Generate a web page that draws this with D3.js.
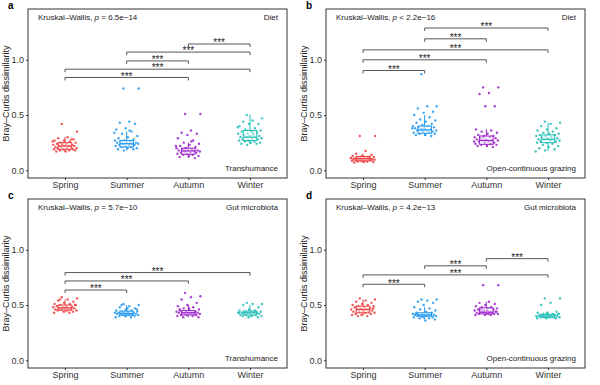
<!DOCTYPE html>
<html>
<head>
<meta charset="utf-8">
<script src="https://cdn.jsdelivr.net/npm/d3@7"></script>
<style>
  body { margin: 0; background: #fff; }
  svg { display: block; font-family: "Liberation Sans", Arial, sans-serif; }
</style>
</head>
<body>
<svg id="chart" width="600" height="385"></svg>
<script>
// Seasons and colours
const seasons = ['Spring', 'Summer', 'Autumn', 'Winter'];
const seasonColors = ['#ee3b3b', '#1e96ee', '#9a22c8', '#1dbdb5'];
const yTicks = [0.0, 0.5, 1.0];

const panelLetters = ['a', 'b', 'c', 'd'];
const panelKinds = ['Diet', 'Diet', 'Gut microbiota', 'Gut microbiota'];
const panelSystems = ['Transhumance', 'Open-continuous grazing', 'Transhumance', 'Open-continuous grazing'];
const kwSign = ['=', '<', '=', '='];
const kwValue = ['6.5e\u221214', '2.2e\u221216', '5.7e\u221210', '4.2e\u221213'];

// box stats per panel: [q1, median, q3, whiskerLow, whiskerHigh] for each season
const boxA = [[0.19, 0.22, 0.25, 0.165, 0.30], [0.21, 0.24, 0.27, 0.18, 0.35], [0.145, 0.175, 0.20, 0.11, 0.25], [0.27, 0.30, 0.36, 0.235, 0.505]];
const boxB = [[0.085, 0.105, 0.125, 0.07, 0.15], [0.335, 0.365, 0.40, 0.31, 0.50], [0.235, 0.27, 0.31, 0.21, 0.37], [0.25, 0.28, 0.32, 0.175, 0.43]];
const boxC = [[0.455, 0.475, 0.50, 0.43, 0.55], [0.41, 0.425, 0.445, 0.39, 0.50], [0.41, 0.43, 0.45, 0.39, 0.50], [0.41, 0.43, 0.445, 0.39, 0.50]];
const boxD = [[0.43, 0.46, 0.49, 0.40, 0.55], [0.40, 0.41, 0.43, 0.37, 0.48], [0.42, 0.435, 0.475, 0.41, 0.53], [0.39, 0.40, 0.415, 0.38, 0.44]];

// individual dissimilarity values
const ptsA = [
  [0.42, 0.35, 0.30, 0.29, 0.28, 0.27, 0.27, 0.26, 0.25, 0.25, 0.24, 0.24, 0.23, 0.23, 0.23, 0.22, 0.22, 0.22, 0.22, 0.21, 0.21, 0.21, 0.20, 0.20, 0.20, 0.19, 0.19, 0.19, 0.18, 0.18, 0.18, 0.17, 0.17, 0.28, 0.24, 0.26],
  [0.74, 0.74, 0.44, 0.43, 0.42, 0.38, 0.37, 0.35, 0.33, 0.31, 0.30, 0.29, 0.28, 0.27, 0.27, 0.26, 0.26, 0.25, 0.25, 0.25, 0.24, 0.24, 0.24, 0.23, 0.23, 0.23, 0.22, 0.22, 0.21, 0.21, 0.20, 0.20, 0.19, 0.19, 0.18, 0.34, 0.36],
  [0.51, 0.51, 0.36, 0.34, 0.33, 0.32, 0.29, 0.27, 0.25, 0.24, 0.23, 0.22, 0.21, 0.20, 0.20, 0.19, 0.19, 0.18, 0.18, 0.18, 0.17, 0.17, 0.17, 0.16, 0.16, 0.16, 0.15, 0.15, 0.14, 0.14, 0.13, 0.13, 0.12, 0.11, 0.20, 0.22, 0.26],
  [0.50, 0.47, 0.45, 0.44, 0.42, 0.42, 0.40, 0.38, 0.37, 0.36, 0.35, 0.35, 0.34, 0.33, 0.33, 0.32, 0.32, 0.31, 0.31, 0.30, 0.30, 0.30, 0.29, 0.29, 0.28, 0.28, 0.27, 0.27, 0.26, 0.26, 0.25, 0.25, 0.24, 0.24, 0.23, 0.39, 0.34]
];
const ptsB = [
  [0.31, 0.31, 0.175, 0.15, 0.14, 0.13, 0.13, 0.12, 0.12, 0.12, 0.115, 0.11, 0.11, 0.11, 0.11, 0.105, 0.105, 0.10, 0.10, 0.10, 0.10, 0.095, 0.095, 0.09, 0.09, 0.09, 0.085, 0.085, 0.08, 0.08, 0.075, 0.075, 0.07, 0.12, 0.10, 0.11],
  [0.87, 0.58, 0.58, 0.56, 0.53, 0.52, 0.50, 0.48, 0.46, 0.45, 0.44, 0.43, 0.42, 0.41, 0.40, 0.40, 0.39, 0.39, 0.38, 0.38, 0.37, 0.37, 0.36, 0.36, 0.36, 0.35, 0.35, 0.34, 0.34, 0.33, 0.33, 0.32, 0.32, 0.31, 0.37, 0.38],
  [0.75, 0.75, 0.70, 0.69, 0.58, 0.58, 0.37, 0.36, 0.35, 0.34, 0.33, 0.32, 0.31, 0.31, 0.30, 0.30, 0.29, 0.29, 0.28, 0.28, 0.27, 0.27, 0.27, 0.26, 0.26, 0.25, 0.25, 0.24, 0.24, 0.23, 0.23, 0.22, 0.22, 0.21, 0.30, 0.26],
  [0.44, 0.43, 0.42, 0.40, 0.38, 0.37, 0.36, 0.35, 0.34, 0.33, 0.33, 0.32, 0.32, 0.31, 0.31, 0.30, 0.30, 0.29, 0.29, 0.28, 0.28, 0.28, 0.27, 0.27, 0.26, 0.26, 0.25, 0.25, 0.24, 0.23, 0.22, 0.21, 0.20, 0.19, 0.18, 0.17]
];
const ptsC = [
  [0.57, 0.56, 0.55, 0.54, 0.53, 0.52, 0.51, 0.51, 0.50, 0.50, 0.49, 0.49, 0.48, 0.48, 0.48, 0.47, 0.47, 0.47, 0.47, 0.46, 0.46, 0.46, 0.45, 0.45, 0.45, 0.44, 0.44, 0.43, 0.43, 0.55, 0.50, 0.48],
  [0.51, 0.50, 0.49, 0.48, 0.47, 0.46, 0.45, 0.45, 0.44, 0.44, 0.44, 0.43, 0.43, 0.43, 0.43, 0.42, 0.42, 0.42, 0.42, 0.42, 0.41, 0.41, 0.41, 0.41, 0.40, 0.40, 0.40, 0.39, 0.39, 0.50, 0.46, 0.47],
  [0.61, 0.58, 0.57, 0.55, 0.52, 0.50, 0.49, 0.48, 0.47, 0.46, 0.45, 0.45, 0.44, 0.44, 0.44, 0.43, 0.43, 0.43, 0.43, 0.43, 0.42, 0.42, 0.42, 0.42, 0.41, 0.41, 0.41, 0.40, 0.40, 0.39, 0.39, 0.47, 0.46, 0.44],
  [0.52, 0.51, 0.51, 0.50, 0.48, 0.46, 0.45, 0.45, 0.44, 0.44, 0.44, 0.43, 0.43, 0.43, 0.43, 0.42, 0.42, 0.42, 0.42, 0.41, 0.41, 0.41, 0.40, 0.40, 0.40, 0.39, 0.39, 0.43, 0.44, 0.42]
];
const ptsD = [
  [0.56, 0.55, 0.54, 0.53, 0.52, 0.51, 0.50, 0.50, 0.49, 0.49, 0.48, 0.48, 0.47, 0.47, 0.46, 0.46, 0.46, 0.45, 0.45, 0.44, 0.44, 0.44, 0.43, 0.43, 0.42, 0.42, 0.41, 0.41, 0.40, 0.40, 0.47, 0.45],
  [0.55, 0.55, 0.54, 0.53, 0.52, 0.50, 0.48, 0.47, 0.46, 0.45, 0.44, 0.43, 0.43, 0.42, 0.42, 0.42, 0.41, 0.41, 0.41, 0.41, 0.41, 0.40, 0.40, 0.40, 0.40, 0.39, 0.39, 0.39, 0.38, 0.38, 0.37, 0.36, 0.42, 0.41],
  [0.68, 0.68, 0.53, 0.52, 0.51, 0.50, 0.49, 0.48, 0.48, 0.47, 0.47, 0.46, 0.46, 0.45, 0.45, 0.44, 0.44, 0.44, 0.43, 0.43, 0.43, 0.43, 0.42, 0.42, 0.42, 0.42, 0.41, 0.41, 0.41, 0.46, 0.44, 0.45],
  [0.56, 0.56, 0.52, 0.50, 0.44, 0.43, 0.43, 0.42, 0.42, 0.42, 0.41, 0.41, 0.41, 0.41, 0.40, 0.40, 0.40, 0.40, 0.40, 0.40, 0.39, 0.39, 0.39, 0.39, 0.39, 0.38, 0.38, 0.38, 0.41, 0.40, 0.42]
];

// significance brackets: [fromIndex, toIndex, height]
const sigA = [[2, 3, 1.143], [1, 3, 1.07], [1, 2, 0.99], [0, 3, 0.915], [0, 2, 0.84]];
const sigB = [[1, 3, 1.288], [1, 2, 1.19], [0, 3, 1.09], [0, 2, 1.0], [0, 1, 0.903]];
const sigC = [[0, 3, 0.794], [0, 2, 0.718], [0, 1, 0.636]];
const sigD = [[2, 3, 0.92], [1, 2, 0.855], [0, 3, 0.773], [0, 1, 0.688]];

const panelBoxes = [boxA, boxB, boxC, boxD];
const panelPoints = [ptsA, ptsB, ptsC, ptsD];
const panelSig = [sigA, sigB, sigC, sigD];

const svg = d3.select('#chart');
const frameColor = '#333';
const textColor = '#333';

function drawPanel(p, ox, oy) {
  const g = svg.append('g').attr('transform', `translate(${ox},${oy})`);
  const left = 28, right = 287, top = 9, bottom = 178;

  const x = d3.scalePoint().domain(seasons).range([left, right]).padding(0.6);
  const y = d3.scaleLinear().domain([-0.07, 1.46]).range([bottom, top]);
  const step = x.step();
  const boxW = step * 0.22;
  const jit = step * 0.2;

  // axes
  const yAxis = g.append('g').attr('transform', `translate(${left},0)`)
    .call(d3.axisLeft(y).tickValues(yTicks).tickFormat(d3.format('.1f')).tickSize(2).tickPadding(2));
  yAxis.select('.domain').remove();
  yAxis.selectAll('line').attr('stroke', frameColor);
  yAxis.selectAll('text').attr('font-size', 9).attr('fill', textColor).attr('font-family', null);

  const xAxis = g.append('g').attr('transform', `translate(0,${bottom})`)
    .call(d3.axisBottom(x).tickSize(2).tickPadding(2));
  xAxis.select('.domain').remove();
  xAxis.selectAll('line').attr('stroke', frameColor);
  xAxis.selectAll('text').attr('font-size', 9).attr('fill', textColor).attr('font-family', null);

  // points
  panelPoints[p].forEach((vals, si) => {
    const cx = x(seasons[si]);
    g.append('g').selectAll('circle').data(vals).join('circle')
      .attr('cx', (d, i) => cx + (((i * 0.618034 + 0.37) % 1) - 0.5) * 2 * jit)
      .attr('cy', d => y(d))
      .attr('r', 1.2)
      .attr('fill', seasonColors[si])
      .attr('opacity', 0.85);
  });

  // boxes
  panelBoxes[p].forEach((b, si) => {
    const cx = x(seasons[si]);
    const col = seasonColors[si];
    const bg = g.append('g');
    bg.append('line').attr('x1', cx).attr('x2', cx).attr('y1', y(b[2])).attr('y2', y(b[4]))
      .attr('stroke', col).attr('stroke-width', 1);
    bg.append('line').attr('x1', cx).attr('x2', cx).attr('y1', y(b[0])).attr('y2', y(b[3]))
      .attr('stroke', col).attr('stroke-width', 1);
    bg.append('rect').attr('x', cx - boxW / 2).attr('width', boxW)
      .attr('y', y(b[2])).attr('height', y(b[0]) - y(b[2]))
      .attr('fill', '#fff').attr('fill-opacity', 0.45)
      .attr('stroke', col).attr('stroke-width', 1);
    bg.append('line').attr('x1', cx - boxW / 2).attr('x2', cx + boxW / 2)
      .attr('y1', y(b[1])).attr('y2', y(b[1]))
      .attr('stroke', col).attr('stroke-width', 1.2);
  });

  // significance brackets
  const sg = g.append('g');
  panelSig[p].forEach(s => {
    const x1 = x(seasons[s[0]]), x2 = x(seasons[s[1]]), yy = y(s[2]);
    sg.append('path')
      .attr('d', `M${x1},${yy + 3}V${yy}H${x2}V${yy + 3}`)
      .attr('fill', 'none').attr('stroke', '#444').attr('stroke-width', 0.9);
    sg.append('text').attr('x', (x1 + x2) / 2).attr('y', yy + 2.3)
      .attr('text-anchor', 'middle').attr('font-size', 10).attr('fill', '#222')
      .text('***');
  });

  // frame
  g.append('rect').attr('x', left).attr('y', top).attr('width', right - left).attr('height', bottom - top)
    .attr('fill', 'none').attr('stroke', frameColor).attr('stroke-width', 1);

  // annotations
  const kw = g.append('text').attr('x', left + 10).attr('y', top + 11)
    .attr('font-size', 8).attr('fill', '#222');
  kw.append('tspan').text('Kruskal\u2013Wallis, ');
  kw.append('tspan').attr('font-style', 'italic').text('p');
  kw.append('tspan').text(` ${kwSign[p]} ${kwValue[p]}`);

  g.append('text').attr('x', right - 9).attr('y', top + 11).attr('text-anchor', 'end')
    .attr('font-size', 8).attr('fill', '#222').text(panelKinds[p]);
  g.append('text').attr('x', right - 9).attr('y', bottom - 7).attr('text-anchor', 'end')
    .attr('font-size', 8).attr('fill', '#222').text(panelSystems[p]);

  // y title
  g.append('text').attr('transform', `translate(9,${(top + bottom) / 2}) rotate(-90)`)
    .attr('text-anchor', 'middle').attr('font-size', 9).attr('fill', '#222')
    .text('Bray\u2013Curtis dissimilarity');

  // panel letter
  g.append('text').attr('x', 8).attr('y', 9).attr('font-size', 10).attr('font-weight', 'bold')
    .attr('fill', '#000').text(panelLetters[p]);
}

drawPanel(0, 0, 0);
drawPanel(1, 298, 0);
drawPanel(2, 0, 190);
drawPanel(3, 298, 190);
</script>
</body>
</html>
